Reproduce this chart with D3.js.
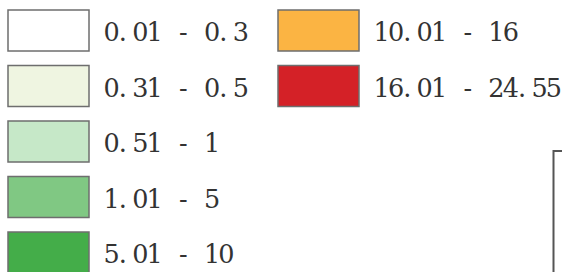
<!DOCTYPE html>
<html>
<head>
<meta charset="utf-8">
<script src="https://cdn.jsdelivr.net/npm/d3@7"></script>
<style>
  html, body { margin: 0; padding: 0; background: #fff; }
  svg { display: block; }
</style>
</head>
<body>
<script>
// legend classes
const labels = ["0.01 - 0.3", "0.31 - 0.5", "0.51 - 1", "1.01 - 5", "5.01 - 10", "10.01 - 16", "16.01 - 24.55"]
const colors = ["#ffffff", "#eff5e1", "#c6e8c8", "#80c883", "#44ad49", "#fbb443", "#d42127"]
const columns = [0, 0, 0, 0, 0, 1, 1]
const rows = [0, 1, 2, 3, 4, 0, 1]

const width = 562, height = 272
const svg = d3.select("body").append("svg")
    .attr("width", width)
    .attr("height", height)

let x = d3.scaleOrdinal().domain([0, 1]).range([8, 278])
let y = d3.scaleLinear().domain([0, 4]).range([10, 232])

const boxW = 81, boxH = 41
const cell = 14.35   // the labels are set on a fixed grid, like a CJK font would

// glyph position inside its grid cell; the period hugs the left side
function charX(c, i) {
    let left = 96.5 + cell * i
    return (c === "." ? left + 4 : left + cell / 2).toFixed(2)
}

let items = svg.selectAll("g.item")
    .data(labels.map((d, i) => ({label: d, color: colors[i], col: columns[i], row: rows[i]})))
    .join("g")
    .attr("class", "item")
    .attr("transform", d => `translate(${x(d.col)},${y(d.row)})`)

items.append("rect")
    .attr("x", 0)
    .attr("y", 0)
    .attr("width", boxW)
    .attr("height", boxH)
    .attr("fill", d => d.color)
    .attr("stroke", "#6e6e6e")
    .attr("stroke-width", 1.5)

items.append("text")
    .attr("y", 31)
    .attr("fill", "#333")
    .attr("font-family", "'DejaVu Serif', serif")
    .attr("font-size", "25.5px")
    .attr("text-anchor", "middle")
    .attr("x", d => d.label.split("").map(charX).join(" "))
    .text(d => d.label)

// corner of the map frame peeking in at the bottom right
svg.append("path")
    .attr("d", `M${width + 2},151 H553.5 V${height + 2}`)
    .attr("fill", "none")
    .attr("stroke", "#555")
    .attr("stroke-width", 2)
</script>
</body>
</html>
